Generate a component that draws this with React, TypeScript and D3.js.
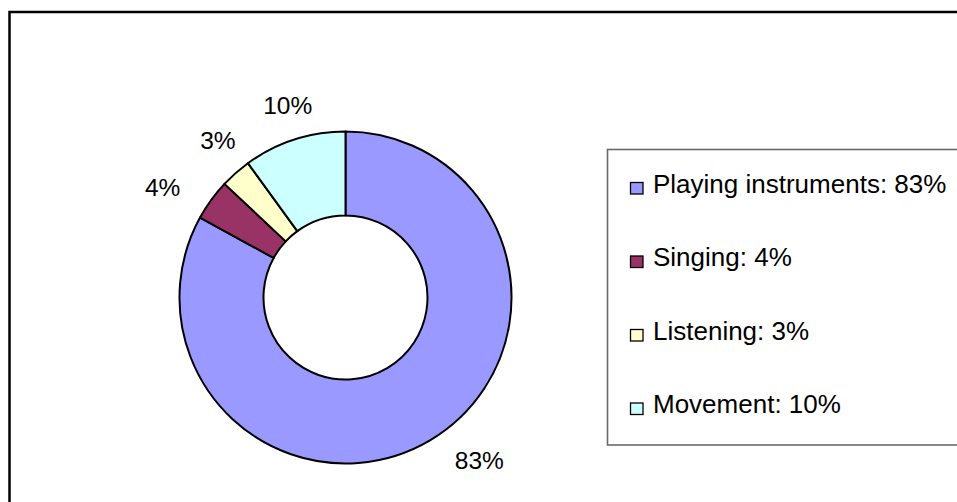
import React from "react";
import * as d3 from "d3";

const categories = ["Playing instruments", "Singing", "Listening", "Movement"];
const values = [83, 4, 3, 10];
const colors = ["#9999FF", "#993366", "#FFFFCC", "#CCFFFF"];
// layout nudges for the outside data labels (px), in category order
const labelNudges: [number, number][] = [[29.5, -13.5], [-17, 10], [8, -3], [5.5, 2.5]];

const W = 957;
const H = 502;
const cx = 345.5;
const cy = 297.5;
const outerR = 166;
const innerR = 82;
const labelR = 205;
const font = "'Liberation Sans', Arial, Helvetica, sans-serif";

export default function App() {
  const pie = d3.pie<number>().sort(null).value((d) => d).startAngle(0).endAngle(2 * Math.PI);
  const arcs = pie(values);
  const arc = d3.arc<d3.PieArcDatum<number>>().innerRadius(innerR).outerRadius(outerR);

  const legendX = 607.5;
  const legendY = 149.5;
  const rowBase = 192.5;
  const rowStep = 73.5;

  return (
    <svg
      width={W}
      height={H}
      style={{ position: "absolute", left: 0, top: 0, background: "#fff" }}
      fontFamily={font}
    >
      <rect x={0} y={0} width={W} height={H} fill="#fff" />
      <rect x={9.5} y={12} width={W + 20} height={H + 20} fill="none" stroke="#000" strokeWidth={2.5} />
      <g transform={`translate(${cx},${cy})`}>
        {arcs.map((a, i) => (
          <path key={i} d={arc(a) || ""} fill={colors[i]} stroke="#000" strokeWidth={2} strokeLinejoin="round" />
        ))}
        {arcs.map((a, i) => {
          const mid = (a.startAngle + a.endAngle) / 2;
          const x = Math.sin(mid) * labelR + labelNudges[i][0];
          const y = -Math.cos(mid) * labelR + labelNudges[i][1];
          return (
            <text key={i} x={x} y={y} textAnchor="middle" dominantBaseline="central" fontSize={24.5} fill="#000">
              {`${values[i]}%`}
            </text>
          );
        })}
      </g>
      <rect x={legendX} y={legendY} width={W} height={445 - legendY} fill="#fff" stroke="#6a6a6a" strokeWidth={1.6} />
      {categories.map((c, i) => {
        const by = rowBase + i * rowStep;
        return (
          <g key={c}>
            <rect x={630.5} y={by - 10} width={12.5} height={11.5} fill={colors[i]} stroke="#000" strokeWidth={1.3} />
            <text x={653} y={by} fontSize={26} fill="#000">
              {`${c}: ${values[i]}%`}
            </text>
          </g>
        );
      })}
    </svg>
  );
}
